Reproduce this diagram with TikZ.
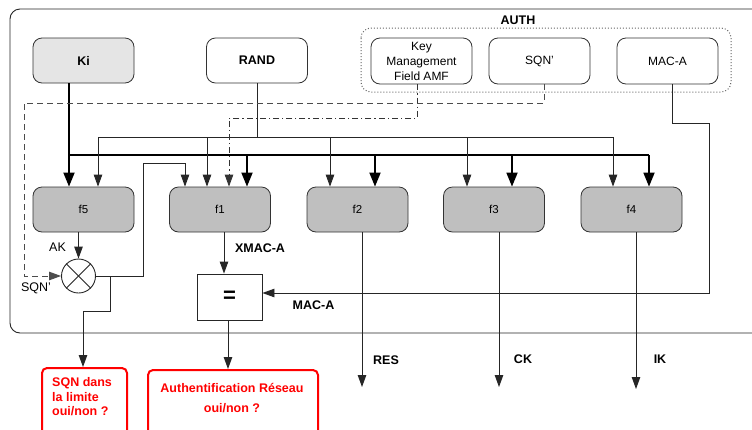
\documentclass[tikz,border=0pt]{standalone}
\usepackage{fontspec}
\setmainfont{Liberation Sans}
\usetikzlibrary{arrows.meta,calc}
\begin{document}
\begin{tikzpicture}[x=1pt,y=-1pt,
  box/.style={draw=black!80, line width=0.8pt, rounded corners=9pt,
    minimum width=101pt, minimum height=45pt, inner sep=0pt, align=center,
    font=\fontsize{12}{15}\selectfont},
  fbox/.style={box, fill=black!25, font=\fontsize{11.5}{14}\selectfont},
  line/.style={draw=black!85, line width=0.9pt},
  thickline/.style={draw=black, line width=1.8pt},
  thinhead/.style={-{Triangle[length=12pt,width=8.5pt]}},
  thinarrow/.style={line, thinhead},
  thickarrow/.style={thickline, -{Triangle[length=14pt,width=11pt]}},
  dashline/.style={draw=black!70, line width=0.9pt, dash pattern=on 6pt off 4pt},
  dotdash/.style={draw=black!80, line width=0.9pt, dash pattern=on 6pt off 3pt on 1.2pt off 3pt},
  lbl/.style={inner sep=0pt, font=\fontsize{12.5}{14}\selectfont},
  blbl/.style={lbl, font=\fontsize{12.5}{14}\selectfont\bfseries},
  redbox/.style={draw=red, line width=2pt, rounded corners=5pt, inner sep=0pt},
  redtext/.style={inner sep=0pt, text=red, font=\fontsize{12.5}{14.5}\selectfont\bfseries}
]
\fill[white] (0,0) rectangle (752,429);
\clip (0,0) rectangle (752,429);

% outer frame of the function block
\draw[line, rounded corners=10pt] (770,9) -- (10,9) -- (10,333) -- (770,333);

% AUTH group
\draw[draw=black!60, line width=1pt, dotted, rounded corners=10pt] (361,28) rectangle (731,92);
\node[blbl] (auth) at (518,20) {AUTH};

% inputs
\node[box, fill=black!10, font=\fontsize{12.5}{15}\selectfont\bfseries] (Ki) at (83.5,60.5) {Ki};
\node[box, font=\fontsize{12.5}{15}\selectfont\bfseries] (RAND) at (257,60.5) {RAND};
\node[box, minimum height=46pt, font=\fontsize{12}{15}\selectfont] (KMF) at (421.5,61) {Key\\Management\\Field AMF};
\node[box, minimum height=46pt] (SQNp) at (539.5,61) {SQN'};
\node[box, minimum height=46pt] (MACA) at (667.5,61) {MAC-A};

% functions
\node[fbox] (f5) at (83.5,209.5) {f5};
\node[fbox] (f1) at (220,209.5) {f1};
\node[fbox] (f2) at (357.5,209.5) {f2};
\node[fbox] (f3) at (494,209.5) {f3};
\node[fbox] (f4) at (631.5,209.5) {f4};

% XOR and comparator
\node[draw=black!85, line width=0.9pt, circle, minimum size=34pt, inner sep=0pt] (xor) at (78.5,276) {};
\draw[line] (xor.north east) -- (xor.south west);
\draw[line] (xor.north west) -- (xor.south east);
\node[draw=black!85, line width=0.9pt, minimum width=65pt, minimum height=46pt, inner sep=0pt,
  font=\fontsize{22}{22}\selectfont\bfseries] (eq) at (229.5,297) {=};

% results
\node[redbox, minimum width=85pt, minimum height=70pt, anchor=north west] (sqnq) at (41,367) {};
\node[redtext, align=left, anchor=north west] (sqnt) at ($(sqnq.north west)+(11,10.5)$) {SQN dans\\la limite\\oui/non ?};
\node[redbox, minimum width=170pt, minimum height=70pt, anchor=north west] (authq) at (147,369) {};
\node[redtext, align=center, anchor=north, font=\fontsize{12.5}{20}\selectfont\bfseries] (autht) at (232,383.5) {Authentification Réseau\\oui/non ?};

% Ki bus (thick)
\coordinate (k5) at (69,155);
\coordinate (k1) at (247,155);
\coordinate (k2) at (375,155);
\coordinate (k3) at (512,155);
\coordinate (k4) at (649,155);
\draw[thickline] (Ki.south -| k5) -- (k5) -- (k4);
\foreach \c/\f in {k5/f5,k1/f1,k2/f2,k3/f3,k4/f4}
  \draw[thickarrow] (\c) -- (\f.north -| \c);

% RAND bus (thin)
\coordinate (r5) at (98,137);
\coordinate (r1) at (207,137);
\coordinate (r2) at (330,137);
\coordinate (r3) at (467,137);
\coordinate (r4) at (613,137);
\draw[line] (RAND.south) -- (RAND.south |- r5);
\draw[line] (r5) -- (r4);
\foreach \c/\f in {r5/f5,r1/f1,r2/f2,r3/f3,r4/f4}
  \draw[thinarrow] (\c) -- (\f.north -| \c);

% AMF to f1 (dash-dot)
\coordinate (am1) at (417,118);
\coordinate (am2) at (229,118);
\draw[dotdash, thinhead] (KMF.south -| am1) -- (am1) -- (am2) -- (f1.north -| am2);

% SQN' to XOR (dashed)
\coordinate (sq1) at (544,103);
\coordinate (sq2) at (24,103);
\draw[dashline, thinhead] (SQNp.south -| sq1) -- (sq1) -- (sq2) |- (xor.west);
\node[lbl] (sqnl) at (36,288) {SQN'};

% AK
\draw[thinarrow] (xor.north |- f5.south) -- (xor.north);
\node[lbl] (ak) at (57.5,247) {AK};

% SQN back into f1
\coordinate (x1) at (143,276);
\coordinate (x2) at (185,163);
\draw[thinarrow] (xor.east) -- (x1) |- (x2) -- (f1.north -| x2);

% SQN range check
\coordinate (b1) at (110,276);
\coordinate (b2) at (83,311);
\draw[thinarrow] (b1) |- (b2) -- (sqnq.north -| b2);

% XMAC-A
\coordinate (xm) at (224,250);
\draw[thinarrow] (f1.south -| xm) -- (eq.north -| xm);
\node[blbl] (xmac) at (260,248) {XMAC-A};

% MAC-A to comparator
\coordinate (m1) at (672,123);
\coordinate (m2) at (709,123);
\draw[thinarrow] (MACA.south -| m1) -- (m1) -- (m2) |- ($(eq.east)+(0,-4)$);
\node[blbl] (macl) at (313.5,305) {MAC-A};

% comparator result
\coordinate (cm) at (228,340);
\draw[thinarrow] (eq.south -| cm) -- (authq.north -| cm);

% outputs
\coordinate (o2) at (362,387);
\coordinate (o3) at (499,387);
\coordinate (o4) at (636,389);
\draw[thinarrow] (f2.south -| o2) -- (o2);
\draw[thinarrow] (f3.south -| o3) -- (o3);
\draw[thinarrow] (f4.south -| o4) -- (o4);
\node[blbl] (res) at (386,360) {RES};
\node[blbl] (ck) at (523,359) {CK};
\node[blbl] (ik) at (660,359) {IK};
\end{tikzpicture}
\end{document}
